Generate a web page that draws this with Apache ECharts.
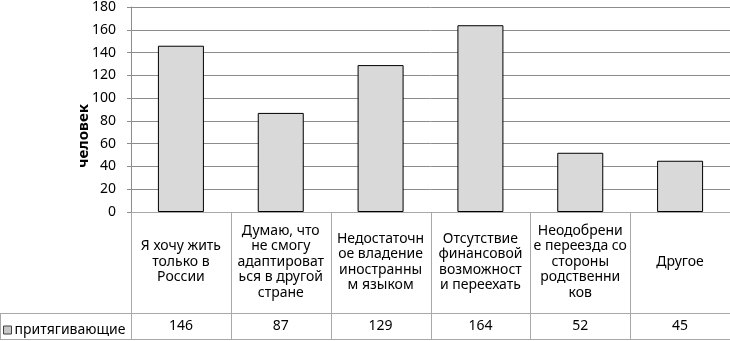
<!DOCTYPE html>
<html>
<head>
<meta charset="utf-8">
<script src="https://cdn.jsdelivr.net/npm/echarts@6/dist/echarts.min.js"></script>
<style>
html,body{margin:0;padding:0;background:#fff;}
#chart{width:730px;height:341px;}
</style>
</head>
<body>
<div id="chart"></div>
<script>
// данные
const categories = [
	'Я хочу жить\nтолько в\nРоссии',
	'Думаю, что\nне смогу\nадаптироват\nься в другой\nстране',
	'Недостаточн\nое владение\nиностранны\nм языком',
	'Отсутствие\nфинансовой\nвозможност\nи переехать',
	'Неодобрени\nе переезда со\nстороны\nродственни\nков',
	'Другое'
];
const seriesName = 'притягивающие';
const values = [146, 87, 129, 164, 52, 45];
const yTicks = {min: 0, max: 180, interval: 20};
const yName = 'человек';

// раскладка
const W = 730, H = 341;
const plotLeft = 131, plotRight = 730, plotTop = 5, zeroY = 212;
const rowY = 313, bottomY = 339;
const font = 'Noto Sans';
const tableColor = '#a8a8a8';

function tableLines() {
	let els = [];
	let line = function (x1, y1, x2, y2) {
		els.push({type: 'line', shape: {x1: x1, y1: y1, x2: x2, y2: y2},
			style: {stroke: tableColor, lineWidth: 1}, z: 1});
	};
	let step = (plotRight - plotLeft) / categories.length;
	line(plotLeft, zeroY + 0.5, plotRight, zeroY + 0.5);
	line(0, rowY + 0.5, plotRight, rowY + 0.5);
	line(0, bottomY + 0.5, plotRight, bottomY + 0.5);
	line(0.5, rowY, 0.5, bottomY);
	for (let i = 0; i < categories.length; i++) {
		let x = Math.round(plotLeft + i * step) + 0.5;
		line(x, zeroY, x, bottomY);
	}
	return els;
}

let chart = echarts.init(document.getElementById('chart'));
chart.setOption({
	animation: false,
	textStyle: {fontFamily: font},
	grid: {left: plotLeft, right: W - plotRight, top: plotTop, bottom: H - zeroY},
	legend: {
		data: [seriesName], left: -2, top: rowY + 5, itemWidth: 8, itemHeight: 8,
		itemGap: 0, icon: 'rect',
		itemStyle: {color: '#c8c8c8', borderColor: '#404040', borderWidth: 1},
		textStyle: {fontFamily: font, fontSize: 14, color: '#000', padding: [0, 0, 0, -2]}
	},
	xAxis: [{
		type: 'category',
		data: categories,
		axisLine: {lineStyle: {color: '#8c8c8c'}},
		axisTick: {show: false},
		axisLabel: {interval: 0, fontSize: 14, lineHeight: 15.5, color: '#000',
			verticalAlign: 'middle', margin: 50, fontFamily: font}
	}, {
		type: 'category',
		position: 'bottom',
		offset: rowY - zeroY,
		data: values.map(String),
		axisLine: {show: false},
		axisTick: {show: false},
		axisLabel: {interval: 0, fontSize: 14, color: '#000', verticalAlign: 'middle',
			margin: 13, fontFamily: font}
	}],
	yAxis: {
		type: 'value',
		min: yTicks.min, max: yTicks.max, interval: yTicks.interval,
		axisLine: {show: true, lineStyle: {color: '#8c8c8c'}},
		axisTick: {show: true, length: 4, lineStyle: {color: '#8c8c8c'}},
		axisLabel: {fontSize: 14, color: '#000', margin: 15, fontFamily: font},
		splitLine: {lineStyle: {color: '#8c8c8c'}}
	},
	series: [{
		name: seriesName,
		type: 'bar',
		data: values,
		barWidth: 46,
		itemStyle: {color: '#d9d9d9', borderColor: '#000', borderWidth: 1}
	}],
	graphic: tableLines().concat([{
		type: 'text', x: 84, y: 136, rotation: Math.PI / 2,
		style: {text: yName, fontFamily: font, fontSize: 15, fontWeight: 'bold',
			fill: '#000', align: 'center', verticalAlign: 'middle'}
	}])
});
</script>
</body>
</html>
